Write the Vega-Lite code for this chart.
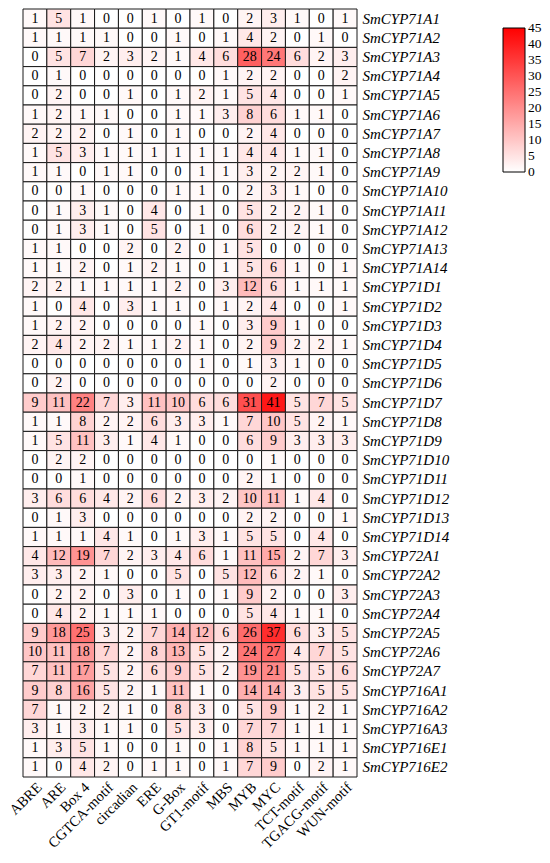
{
"$schema": "https://vega.github.io/schema/vega-lite/v6.json",
"width": 334, "height": 768,
"autosize": {"type": "none"},
"padding": {"left": 23, "top": 9, "right": 193, "bottom": 86},
"background": "white",
"config": {"view": {"stroke": null}, "font": "Liberation Serif"},
"datasets": {"cells": [
{"g":"SmCYP71A1","m":"ABRE","v":1},{"g":"SmCYP71A1","m":"ARE","v":5},{"g":"SmCYP71A1","m":"Box 4","v":1},{"g":"SmCYP71A1","m":"CGTCA-motif","v":0},{"g":"SmCYP71A1","m":"circadian","v":0},{"g":"SmCYP71A1","m":"ERE","v":1},{"g":"SmCYP71A1","m":"G-Box","v":0},{"g":"SmCYP71A1","m":"GT1-motif","v":1},{"g":"SmCYP71A1","m":"MBS","v":0},{"g":"SmCYP71A1","m":"MYB","v":2},{"g":"SmCYP71A1","m":"MYC","v":3},{"g":"SmCYP71A1","m":"TCT-motif","v":1},{"g":"SmCYP71A1","m":"TGACG-motif","v":0},{"g":"SmCYP71A1","m":"WUN-motif","v":1},
{"g":"SmCYP71A2","m":"ABRE","v":1},{"g":"SmCYP71A2","m":"ARE","v":1},{"g":"SmCYP71A2","m":"Box 4","v":1},{"g":"SmCYP71A2","m":"CGTCA-motif","v":1},{"g":"SmCYP71A2","m":"circadian","v":0},{"g":"SmCYP71A2","m":"ERE","v":0},{"g":"SmCYP71A2","m":"G-Box","v":1},{"g":"SmCYP71A2","m":"GT1-motif","v":0},{"g":"SmCYP71A2","m":"MBS","v":1},{"g":"SmCYP71A2","m":"MYB","v":4},{"g":"SmCYP71A2","m":"MYC","v":2},{"g":"SmCYP71A2","m":"TCT-motif","v":0},{"g":"SmCYP71A2","m":"TGACG-motif","v":1},{"g":"SmCYP71A2","m":"WUN-motif","v":0},
{"g":"SmCYP71A3","m":"ABRE","v":0},{"g":"SmCYP71A3","m":"ARE","v":5},{"g":"SmCYP71A3","m":"Box 4","v":7},{"g":"SmCYP71A3","m":"CGTCA-motif","v":2},{"g":"SmCYP71A3","m":"circadian","v":3},{"g":"SmCYP71A3","m":"ERE","v":2},{"g":"SmCYP71A3","m":"G-Box","v":1},{"g":"SmCYP71A3","m":"GT1-motif","v":4},{"g":"SmCYP71A3","m":"MBS","v":6},{"g":"SmCYP71A3","m":"MYB","v":28},{"g":"SmCYP71A3","m":"MYC","v":24},{"g":"SmCYP71A3","m":"TCT-motif","v":6},{"g":"SmCYP71A3","m":"TGACG-motif","v":2},{"g":"SmCYP71A3","m":"WUN-motif","v":3},
{"g":"SmCYP71A4","m":"ABRE","v":0},{"g":"SmCYP71A4","m":"ARE","v":1},{"g":"SmCYP71A4","m":"Box 4","v":0},{"g":"SmCYP71A4","m":"CGTCA-motif","v":0},{"g":"SmCYP71A4","m":"circadian","v":0},{"g":"SmCYP71A4","m":"ERE","v":0},{"g":"SmCYP71A4","m":"G-Box","v":0},{"g":"SmCYP71A4","m":"GT1-motif","v":0},{"g":"SmCYP71A4","m":"MBS","v":1},{"g":"SmCYP71A4","m":"MYB","v":2},{"g":"SmCYP71A4","m":"MYC","v":2},{"g":"SmCYP71A4","m":"TCT-motif","v":0},{"g":"SmCYP71A4","m":"TGACG-motif","v":0},{"g":"SmCYP71A4","m":"WUN-motif","v":2},
{"g":"SmCYP71A5","m":"ABRE","v":0},{"g":"SmCYP71A5","m":"ARE","v":2},{"g":"SmCYP71A5","m":"Box 4","v":0},{"g":"SmCYP71A5","m":"CGTCA-motif","v":0},{"g":"SmCYP71A5","m":"circadian","v":1},{"g":"SmCYP71A5","m":"ERE","v":0},{"g":"SmCYP71A5","m":"G-Box","v":1},{"g":"SmCYP71A5","m":"GT1-motif","v":2},{"g":"SmCYP71A5","m":"MBS","v":1},{"g":"SmCYP71A5","m":"MYB","v":5},{"g":"SmCYP71A5","m":"MYC","v":4},{"g":"SmCYP71A5","m":"TCT-motif","v":0},{"g":"SmCYP71A5","m":"TGACG-motif","v":0},{"g":"SmCYP71A5","m":"WUN-motif","v":1},
{"g":"SmCYP71A6","m":"ABRE","v":1},{"g":"SmCYP71A6","m":"ARE","v":2},{"g":"SmCYP71A6","m":"Box 4","v":1},{"g":"SmCYP71A6","m":"CGTCA-motif","v":1},{"g":"SmCYP71A6","m":"circadian","v":0},{"g":"SmCYP71A6","m":"ERE","v":0},{"g":"SmCYP71A6","m":"G-Box","v":1},{"g":"SmCYP71A6","m":"GT1-motif","v":1},{"g":"SmCYP71A6","m":"MBS","v":3},{"g":"SmCYP71A6","m":"MYB","v":8},{"g":"SmCYP71A6","m":"MYC","v":6},{"g":"SmCYP71A6","m":"TCT-motif","v":1},{"g":"SmCYP71A6","m":"TGACG-motif","v":1},{"g":"SmCYP71A6","m":"WUN-motif","v":0},
{"g":"SmCYP71A7","m":"ABRE","v":2},{"g":"SmCYP71A7","m":"ARE","v":2},{"g":"SmCYP71A7","m":"Box 4","v":2},{"g":"SmCYP71A7","m":"CGTCA-motif","v":0},{"g":"SmCYP71A7","m":"circadian","v":1},{"g":"SmCYP71A7","m":"ERE","v":0},{"g":"SmCYP71A7","m":"G-Box","v":1},{"g":"SmCYP71A7","m":"GT1-motif","v":0},{"g":"SmCYP71A7","m":"MBS","v":0},{"g":"SmCYP71A7","m":"MYB","v":2},{"g":"SmCYP71A7","m":"MYC","v":4},{"g":"SmCYP71A7","m":"TCT-motif","v":0},{"g":"SmCYP71A7","m":"TGACG-motif","v":0},{"g":"SmCYP71A7","m":"WUN-motif","v":0},
{"g":"SmCYP71A8","m":"ABRE","v":1},{"g":"SmCYP71A8","m":"ARE","v":5},{"g":"SmCYP71A8","m":"Box 4","v":3},{"g":"SmCYP71A8","m":"CGTCA-motif","v":1},{"g":"SmCYP71A8","m":"circadian","v":1},{"g":"SmCYP71A8","m":"ERE","v":1},{"g":"SmCYP71A8","m":"G-Box","v":1},{"g":"SmCYP71A8","m":"GT1-motif","v":1},{"g":"SmCYP71A8","m":"MBS","v":1},{"g":"SmCYP71A8","m":"MYB","v":4},{"g":"SmCYP71A8","m":"MYC","v":4},{"g":"SmCYP71A8","m":"TCT-motif","v":1},{"g":"SmCYP71A8","m":"TGACG-motif","v":1},{"g":"SmCYP71A8","m":"WUN-motif","v":0},
{"g":"SmCYP71A9","m":"ABRE","v":1},{"g":"SmCYP71A9","m":"ARE","v":1},{"g":"SmCYP71A9","m":"Box 4","v":0},{"g":"SmCYP71A9","m":"CGTCA-motif","v":1},{"g":"SmCYP71A9","m":"circadian","v":1},{"g":"SmCYP71A9","m":"ERE","v":0},{"g":"SmCYP71A9","m":"G-Box","v":0},{"g":"SmCYP71A9","m":"GT1-motif","v":1},{"g":"SmCYP71A9","m":"MBS","v":1},{"g":"SmCYP71A9","m":"MYB","v":3},{"g":"SmCYP71A9","m":"MYC","v":2},{"g":"SmCYP71A9","m":"TCT-motif","v":2},{"g":"SmCYP71A9","m":"TGACG-motif","v":1},{"g":"SmCYP71A9","m":"WUN-motif","v":0},
{"g":"SmCYP71A10","m":"ABRE","v":0},{"g":"SmCYP71A10","m":"ARE","v":0},{"g":"SmCYP71A10","m":"Box 4","v":1},{"g":"SmCYP71A10","m":"CGTCA-motif","v":0},{"g":"SmCYP71A10","m":"circadian","v":0},{"g":"SmCYP71A10","m":"ERE","v":0},{"g":"SmCYP71A10","m":"G-Box","v":1},{"g":"SmCYP71A10","m":"GT1-motif","v":1},{"g":"SmCYP71A10","m":"MBS","v":0},{"g":"SmCYP71A10","m":"MYB","v":2},{"g":"SmCYP71A10","m":"MYC","v":3},{"g":"SmCYP71A10","m":"TCT-motif","v":1},{"g":"SmCYP71A10","m":"TGACG-motif","v":0},{"g":"SmCYP71A10","m":"WUN-motif","v":0},
{"g":"SmCYP71A11","m":"ABRE","v":0},{"g":"SmCYP71A11","m":"ARE","v":1},{"g":"SmCYP71A11","m":"Box 4","v":3},{"g":"SmCYP71A11","m":"CGTCA-motif","v":1},{"g":"SmCYP71A11","m":"circadian","v":0},{"g":"SmCYP71A11","m":"ERE","v":4},{"g":"SmCYP71A11","m":"G-Box","v":0},{"g":"SmCYP71A11","m":"GT1-motif","v":1},{"g":"SmCYP71A11","m":"MBS","v":0},{"g":"SmCYP71A11","m":"MYB","v":5},{"g":"SmCYP71A11","m":"MYC","v":2},{"g":"SmCYP71A11","m":"TCT-motif","v":2},{"g":"SmCYP71A11","m":"TGACG-motif","v":1},{"g":"SmCYP71A11","m":"WUN-motif","v":0},
{"g":"SmCYP71A12","m":"ABRE","v":0},{"g":"SmCYP71A12","m":"ARE","v":1},{"g":"SmCYP71A12","m":"Box 4","v":3},{"g":"SmCYP71A12","m":"CGTCA-motif","v":1},{"g":"SmCYP71A12","m":"circadian","v":0},{"g":"SmCYP71A12","m":"ERE","v":5},{"g":"SmCYP71A12","m":"G-Box","v":0},{"g":"SmCYP71A12","m":"GT1-motif","v":1},{"g":"SmCYP71A12","m":"MBS","v":0},{"g":"SmCYP71A12","m":"MYB","v":6},{"g":"SmCYP71A12","m":"MYC","v":2},{"g":"SmCYP71A12","m":"TCT-motif","v":2},{"g":"SmCYP71A12","m":"TGACG-motif","v":1},{"g":"SmCYP71A12","m":"WUN-motif","v":0},
{"g":"SmCYP71A13","m":"ABRE","v":1},{"g":"SmCYP71A13","m":"ARE","v":1},{"g":"SmCYP71A13","m":"Box 4","v":0},{"g":"SmCYP71A13","m":"CGTCA-motif","v":0},{"g":"SmCYP71A13","m":"circadian","v":2},{"g":"SmCYP71A13","m":"ERE","v":0},{"g":"SmCYP71A13","m":"G-Box","v":2},{"g":"SmCYP71A13","m":"GT1-motif","v":0},{"g":"SmCYP71A13","m":"MBS","v":1},{"g":"SmCYP71A13","m":"MYB","v":5},{"g":"SmCYP71A13","m":"MYC","v":0},{"g":"SmCYP71A13","m":"TCT-motif","v":0},{"g":"SmCYP71A13","m":"TGACG-motif","v":0},{"g":"SmCYP71A13","m":"WUN-motif","v":0},
{"g":"SmCYP71A14","m":"ABRE","v":1},{"g":"SmCYP71A14","m":"ARE","v":1},{"g":"SmCYP71A14","m":"Box 4","v":2},{"g":"SmCYP71A14","m":"CGTCA-motif","v":0},{"g":"SmCYP71A14","m":"circadian","v":1},{"g":"SmCYP71A14","m":"ERE","v":2},{"g":"SmCYP71A14","m":"G-Box","v":1},{"g":"SmCYP71A14","m":"GT1-motif","v":0},{"g":"SmCYP71A14","m":"MBS","v":1},{"g":"SmCYP71A14","m":"MYB","v":5},{"g":"SmCYP71A14","m":"MYC","v":6},{"g":"SmCYP71A14","m":"TCT-motif","v":1},{"g":"SmCYP71A14","m":"TGACG-motif","v":0},{"g":"SmCYP71A14","m":"WUN-motif","v":1},
{"g":"SmCYP71D1","m":"ABRE","v":2},{"g":"SmCYP71D1","m":"ARE","v":2},{"g":"SmCYP71D1","m":"Box 4","v":1},{"g":"SmCYP71D1","m":"CGTCA-motif","v":1},{"g":"SmCYP71D1","m":"circadian","v":1},{"g":"SmCYP71D1","m":"ERE","v":1},{"g":"SmCYP71D1","m":"G-Box","v":2},{"g":"SmCYP71D1","m":"GT1-motif","v":0},{"g":"SmCYP71D1","m":"MBS","v":3},{"g":"SmCYP71D1","m":"MYB","v":12},{"g":"SmCYP71D1","m":"MYC","v":6},{"g":"SmCYP71D1","m":"TCT-motif","v":1},{"g":"SmCYP71D1","m":"TGACG-motif","v":1},{"g":"SmCYP71D1","m":"WUN-motif","v":1},
{"g":"SmCYP71D2","m":"ABRE","v":1},{"g":"SmCYP71D2","m":"ARE","v":0},{"g":"SmCYP71D2","m":"Box 4","v":4},{"g":"SmCYP71D2","m":"CGTCA-motif","v":0},{"g":"SmCYP71D2","m":"circadian","v":3},{"g":"SmCYP71D2","m":"ERE","v":1},{"g":"SmCYP71D2","m":"G-Box","v":1},{"g":"SmCYP71D2","m":"GT1-motif","v":0},{"g":"SmCYP71D2","m":"MBS","v":1},{"g":"SmCYP71D2","m":"MYB","v":2},{"g":"SmCYP71D2","m":"MYC","v":4},{"g":"SmCYP71D2","m":"TCT-motif","v":0},{"g":"SmCYP71D2","m":"TGACG-motif","v":0},{"g":"SmCYP71D2","m":"WUN-motif","v":1},
{"g":"SmCYP71D3","m":"ABRE","v":1},{"g":"SmCYP71D3","m":"ARE","v":2},{"g":"SmCYP71D3","m":"Box 4","v":2},{"g":"SmCYP71D3","m":"CGTCA-motif","v":0},{"g":"SmCYP71D3","m":"circadian","v":0},{"g":"SmCYP71D3","m":"ERE","v":0},{"g":"SmCYP71D3","m":"G-Box","v":0},{"g":"SmCYP71D3","m":"GT1-motif","v":1},{"g":"SmCYP71D3","m":"MBS","v":0},{"g":"SmCYP71D3","m":"MYB","v":3},{"g":"SmCYP71D3","m":"MYC","v":9},{"g":"SmCYP71D3","m":"TCT-motif","v":1},{"g":"SmCYP71D3","m":"TGACG-motif","v":0},{"g":"SmCYP71D3","m":"WUN-motif","v":0},
{"g":"SmCYP71D4","m":"ABRE","v":2},{"g":"SmCYP71D4","m":"ARE","v":4},{"g":"SmCYP71D4","m":"Box 4","v":2},{"g":"SmCYP71D4","m":"CGTCA-motif","v":2},{"g":"SmCYP71D4","m":"circadian","v":1},{"g":"SmCYP71D4","m":"ERE","v":1},{"g":"SmCYP71D4","m":"G-Box","v":2},{"g":"SmCYP71D4","m":"GT1-motif","v":1},{"g":"SmCYP71D4","m":"MBS","v":0},{"g":"SmCYP71D4","m":"MYB","v":2},{"g":"SmCYP71D4","m":"MYC","v":9},{"g":"SmCYP71D4","m":"TCT-motif","v":2},{"g":"SmCYP71D4","m":"TGACG-motif","v":2},{"g":"SmCYP71D4","m":"WUN-motif","v":1},
{"g":"SmCYP71D5","m":"ABRE","v":0},{"g":"SmCYP71D5","m":"ARE","v":0},{"g":"SmCYP71D5","m":"Box 4","v":0},{"g":"SmCYP71D5","m":"CGTCA-motif","v":0},{"g":"SmCYP71D5","m":"circadian","v":0},{"g":"SmCYP71D5","m":"ERE","v":0},{"g":"SmCYP71D5","m":"G-Box","v":0},{"g":"SmCYP71D5","m":"GT1-motif","v":1},{"g":"SmCYP71D5","m":"MBS","v":0},{"g":"SmCYP71D5","m":"MYB","v":1},{"g":"SmCYP71D5","m":"MYC","v":3},{"g":"SmCYP71D5","m":"TCT-motif","v":1},{"g":"SmCYP71D5","m":"TGACG-motif","v":0},{"g":"SmCYP71D5","m":"WUN-motif","v":0},
{"g":"SmCYP71D6","m":"ABRE","v":0},{"g":"SmCYP71D6","m":"ARE","v":2},{"g":"SmCYP71D6","m":"Box 4","v":0},{"g":"SmCYP71D6","m":"CGTCA-motif","v":0},{"g":"SmCYP71D6","m":"circadian","v":0},{"g":"SmCYP71D6","m":"ERE","v":0},{"g":"SmCYP71D6","m":"G-Box","v":0},{"g":"SmCYP71D6","m":"GT1-motif","v":0},{"g":"SmCYP71D6","m":"MBS","v":0},{"g":"SmCYP71D6","m":"MYB","v":0},{"g":"SmCYP71D6","m":"MYC","v":2},{"g":"SmCYP71D6","m":"TCT-motif","v":0},{"g":"SmCYP71D6","m":"TGACG-motif","v":0},{"g":"SmCYP71D6","m":"WUN-motif","v":0},
{"g":"SmCYP71D7","m":"ABRE","v":9},{"g":"SmCYP71D7","m":"ARE","v":11},{"g":"SmCYP71D7","m":"Box 4","v":22},{"g":"SmCYP71D7","m":"CGTCA-motif","v":7},{"g":"SmCYP71D7","m":"circadian","v":3},{"g":"SmCYP71D7","m":"ERE","v":11},{"g":"SmCYP71D7","m":"G-Box","v":10},{"g":"SmCYP71D7","m":"GT1-motif","v":6},{"g":"SmCYP71D7","m":"MBS","v":6},{"g":"SmCYP71D7","m":"MYB","v":31},{"g":"SmCYP71D7","m":"MYC","v":41},{"g":"SmCYP71D7","m":"TCT-motif","v":5},{"g":"SmCYP71D7","m":"TGACG-motif","v":7},{"g":"SmCYP71D7","m":"WUN-motif","v":5},
{"g":"SmCYP71D8","m":"ABRE","v":1},{"g":"SmCYP71D8","m":"ARE","v":1},{"g":"SmCYP71D8","m":"Box 4","v":8},{"g":"SmCYP71D8","m":"CGTCA-motif","v":2},{"g":"SmCYP71D8","m":"circadian","v":2},{"g":"SmCYP71D8","m":"ERE","v":6},{"g":"SmCYP71D8","m":"G-Box","v":3},{"g":"SmCYP71D8","m":"GT1-motif","v":3},{"g":"SmCYP71D8","m":"MBS","v":1},{"g":"SmCYP71D8","m":"MYB","v":7},{"g":"SmCYP71D8","m":"MYC","v":10},{"g":"SmCYP71D8","m":"TCT-motif","v":5},{"g":"SmCYP71D8","m":"TGACG-motif","v":2},{"g":"SmCYP71D8","m":"WUN-motif","v":1},
{"g":"SmCYP71D9","m":"ABRE","v":1},{"g":"SmCYP71D9","m":"ARE","v":5},{"g":"SmCYP71D9","m":"Box 4","v":11},{"g":"SmCYP71D9","m":"CGTCA-motif","v":3},{"g":"SmCYP71D9","m":"circadian","v":1},{"g":"SmCYP71D9","m":"ERE","v":4},{"g":"SmCYP71D9","m":"G-Box","v":1},{"g":"SmCYP71D9","m":"GT1-motif","v":0},{"g":"SmCYP71D9","m":"MBS","v":0},{"g":"SmCYP71D9","m":"MYB","v":6},{"g":"SmCYP71D9","m":"MYC","v":9},{"g":"SmCYP71D9","m":"TCT-motif","v":3},{"g":"SmCYP71D9","m":"TGACG-motif","v":3},{"g":"SmCYP71D9","m":"WUN-motif","v":3},
{"g":"SmCYP71D10","m":"ABRE","v":0},{"g":"SmCYP71D10","m":"ARE","v":2},{"g":"SmCYP71D10","m":"Box 4","v":2},{"g":"SmCYP71D10","m":"CGTCA-motif","v":0},{"g":"SmCYP71D10","m":"circadian","v":0},{"g":"SmCYP71D10","m":"ERE","v":0},{"g":"SmCYP71D10","m":"G-Box","v":0},{"g":"SmCYP71D10","m":"GT1-motif","v":0},{"g":"SmCYP71D10","m":"MBS","v":0},{"g":"SmCYP71D10","m":"MYB","v":0},{"g":"SmCYP71D10","m":"MYC","v":1},{"g":"SmCYP71D10","m":"TCT-motif","v":0},{"g":"SmCYP71D10","m":"TGACG-motif","v":0},{"g":"SmCYP71D10","m":"WUN-motif","v":0},
{"g":"SmCYP71D11","m":"ABRE","v":0},{"g":"SmCYP71D11","m":"ARE","v":0},{"g":"SmCYP71D11","m":"Box 4","v":1},{"g":"SmCYP71D11","m":"CGTCA-motif","v":0},{"g":"SmCYP71D11","m":"circadian","v":0},{"g":"SmCYP71D11","m":"ERE","v":0},{"g":"SmCYP71D11","m":"G-Box","v":0},{"g":"SmCYP71D11","m":"GT1-motif","v":0},{"g":"SmCYP71D11","m":"MBS","v":0},{"g":"SmCYP71D11","m":"MYB","v":2},{"g":"SmCYP71D11","m":"MYC","v":1},{"g":"SmCYP71D11","m":"TCT-motif","v":0},{"g":"SmCYP71D11","m":"TGACG-motif","v":0},{"g":"SmCYP71D11","m":"WUN-motif","v":0},
{"g":"SmCYP71D12","m":"ABRE","v":3},{"g":"SmCYP71D12","m":"ARE","v":6},{"g":"SmCYP71D12","m":"Box 4","v":6},{"g":"SmCYP71D12","m":"CGTCA-motif","v":4},{"g":"SmCYP71D12","m":"circadian","v":2},{"g":"SmCYP71D12","m":"ERE","v":6},{"g":"SmCYP71D12","m":"G-Box","v":2},{"g":"SmCYP71D12","m":"GT1-motif","v":3},{"g":"SmCYP71D12","m":"MBS","v":2},{"g":"SmCYP71D12","m":"MYB","v":10},{"g":"SmCYP71D12","m":"MYC","v":11},{"g":"SmCYP71D12","m":"TCT-motif","v":1},{"g":"SmCYP71D12","m":"TGACG-motif","v":4},{"g":"SmCYP71D12","m":"WUN-motif","v":0},
{"g":"SmCYP71D13","m":"ABRE","v":0},{"g":"SmCYP71D13","m":"ARE","v":1},{"g":"SmCYP71D13","m":"Box 4","v":3},{"g":"SmCYP71D13","m":"CGTCA-motif","v":0},{"g":"SmCYP71D13","m":"circadian","v":0},{"g":"SmCYP71D13","m":"ERE","v":0},{"g":"SmCYP71D13","m":"G-Box","v":0},{"g":"SmCYP71D13","m":"GT1-motif","v":0},{"g":"SmCYP71D13","m":"MBS","v":0},{"g":"SmCYP71D13","m":"MYB","v":2},{"g":"SmCYP71D13","m":"MYC","v":2},{"g":"SmCYP71D13","m":"TCT-motif","v":0},{"g":"SmCYP71D13","m":"TGACG-motif","v":0},{"g":"SmCYP71D13","m":"WUN-motif","v":1},
{"g":"SmCYP71D14","m":"ABRE","v":1},{"g":"SmCYP71D14","m":"ARE","v":1},{"g":"SmCYP71D14","m":"Box 4","v":1},{"g":"SmCYP71D14","m":"CGTCA-motif","v":4},{"g":"SmCYP71D14","m":"circadian","v":1},{"g":"SmCYP71D14","m":"ERE","v":0},{"g":"SmCYP71D14","m":"G-Box","v":1},{"g":"SmCYP71D14","m":"GT1-motif","v":3},{"g":"SmCYP71D14","m":"MBS","v":1},{"g":"SmCYP71D14","m":"MYB","v":5},{"g":"SmCYP71D14","m":"MYC","v":5},{"g":"SmCYP71D14","m":"TCT-motif","v":0},{"g":"SmCYP71D14","m":"TGACG-motif","v":4},{"g":"SmCYP71D14","m":"WUN-motif","v":0},
{"g":"SmCYP72A1","m":"ABRE","v":4},{"g":"SmCYP72A1","m":"ARE","v":12},{"g":"SmCYP72A1","m":"Box 4","v":19},{"g":"SmCYP72A1","m":"CGTCA-motif","v":7},{"g":"SmCYP72A1","m":"circadian","v":2},{"g":"SmCYP72A1","m":"ERE","v":3},{"g":"SmCYP72A1","m":"G-Box","v":4},{"g":"SmCYP72A1","m":"GT1-motif","v":6},{"g":"SmCYP72A1","m":"MBS","v":1},{"g":"SmCYP72A1","m":"MYB","v":11},{"g":"SmCYP72A1","m":"MYC","v":15},{"g":"SmCYP72A1","m":"TCT-motif","v":2},{"g":"SmCYP72A1","m":"TGACG-motif","v":7},{"g":"SmCYP72A1","m":"WUN-motif","v":3},
{"g":"SmCYP72A2","m":"ABRE","v":3},{"g":"SmCYP72A2","m":"ARE","v":3},{"g":"SmCYP72A2","m":"Box 4","v":2},{"g":"SmCYP72A2","m":"CGTCA-motif","v":1},{"g":"SmCYP72A2","m":"circadian","v":0},{"g":"SmCYP72A2","m":"ERE","v":0},{"g":"SmCYP72A2","m":"G-Box","v":5},{"g":"SmCYP72A2","m":"GT1-motif","v":0},{"g":"SmCYP72A2","m":"MBS","v":5},{"g":"SmCYP72A2","m":"MYB","v":12},{"g":"SmCYP72A2","m":"MYC","v":6},{"g":"SmCYP72A2","m":"TCT-motif","v":2},{"g":"SmCYP72A2","m":"TGACG-motif","v":1},{"g":"SmCYP72A2","m":"WUN-motif","v":0},
{"g":"SmCYP72A3","m":"ABRE","v":0},{"g":"SmCYP72A3","m":"ARE","v":2},{"g":"SmCYP72A3","m":"Box 4","v":2},{"g":"SmCYP72A3","m":"CGTCA-motif","v":0},{"g":"SmCYP72A3","m":"circadian","v":3},{"g":"SmCYP72A3","m":"ERE","v":0},{"g":"SmCYP72A3","m":"G-Box","v":1},{"g":"SmCYP72A3","m":"GT1-motif","v":0},{"g":"SmCYP72A3","m":"MBS","v":1},{"g":"SmCYP72A3","m":"MYB","v":9},{"g":"SmCYP72A3","m":"MYC","v":2},{"g":"SmCYP72A3","m":"TCT-motif","v":0},{"g":"SmCYP72A3","m":"TGACG-motif","v":0},{"g":"SmCYP72A3","m":"WUN-motif","v":3},
{"g":"SmCYP72A4","m":"ABRE","v":0},{"g":"SmCYP72A4","m":"ARE","v":4},{"g":"SmCYP72A4","m":"Box 4","v":2},{"g":"SmCYP72A4","m":"CGTCA-motif","v":1},{"g":"SmCYP72A4","m":"circadian","v":1},{"g":"SmCYP72A4","m":"ERE","v":1},{"g":"SmCYP72A4","m":"G-Box","v":0},{"g":"SmCYP72A4","m":"GT1-motif","v":0},{"g":"SmCYP72A4","m":"MBS","v":0},{"g":"SmCYP72A4","m":"MYB","v":5},{"g":"SmCYP72A4","m":"MYC","v":4},{"g":"SmCYP72A4","m":"TCT-motif","v":1},{"g":"SmCYP72A4","m":"TGACG-motif","v":1},{"g":"SmCYP72A4","m":"WUN-motif","v":0},
{"g":"SmCYP72A5","m":"ABRE","v":9},{"g":"SmCYP72A5","m":"ARE","v":18},{"g":"SmCYP72A5","m":"Box 4","v":25},{"g":"SmCYP72A5","m":"CGTCA-motif","v":3},{"g":"SmCYP72A5","m":"circadian","v":2},{"g":"SmCYP72A5","m":"ERE","v":7},{"g":"SmCYP72A5","m":"G-Box","v":14},{"g":"SmCYP72A5","m":"GT1-motif","v":12},{"g":"SmCYP72A5","m":"MBS","v":6},{"g":"SmCYP72A5","m":"MYB","v":26},{"g":"SmCYP72A5","m":"MYC","v":37},{"g":"SmCYP72A5","m":"TCT-motif","v":6},{"g":"SmCYP72A5","m":"TGACG-motif","v":3},{"g":"SmCYP72A5","m":"WUN-motif","v":5},
{"g":"SmCYP72A6","m":"ABRE","v":10},{"g":"SmCYP72A6","m":"ARE","v":11},{"g":"SmCYP72A6","m":"Box 4","v":18},{"g":"SmCYP72A6","m":"CGTCA-motif","v":7},{"g":"SmCYP72A6","m":"circadian","v":2},{"g":"SmCYP72A6","m":"ERE","v":8},{"g":"SmCYP72A6","m":"G-Box","v":13},{"g":"SmCYP72A6","m":"GT1-motif","v":5},{"g":"SmCYP72A6","m":"MBS","v":2},{"g":"SmCYP72A6","m":"MYB","v":24},{"g":"SmCYP72A6","m":"MYC","v":27},{"g":"SmCYP72A6","m":"TCT-motif","v":4},{"g":"SmCYP72A6","m":"TGACG-motif","v":7},{"g":"SmCYP72A6","m":"WUN-motif","v":5},
{"g":"SmCYP72A7","m":"ABRE","v":7},{"g":"SmCYP72A7","m":"ARE","v":11},{"g":"SmCYP72A7","m":"Box 4","v":17},{"g":"SmCYP72A7","m":"CGTCA-motif","v":5},{"g":"SmCYP72A7","m":"circadian","v":2},{"g":"SmCYP72A7","m":"ERE","v":6},{"g":"SmCYP72A7","m":"G-Box","v":9},{"g":"SmCYP72A7","m":"GT1-motif","v":5},{"g":"SmCYP72A7","m":"MBS","v":2},{"g":"SmCYP72A7","m":"MYB","v":19},{"g":"SmCYP72A7","m":"MYC","v":21},{"g":"SmCYP72A7","m":"TCT-motif","v":5},{"g":"SmCYP72A7","m":"TGACG-motif","v":5},{"g":"SmCYP72A7","m":"WUN-motif","v":6},
{"g":"SmCYP716A1","m":"ABRE","v":9},{"g":"SmCYP716A1","m":"ARE","v":8},{"g":"SmCYP716A1","m":"Box 4","v":16},{"g":"SmCYP716A1","m":"CGTCA-motif","v":5},{"g":"SmCYP716A1","m":"circadian","v":2},{"g":"SmCYP716A1","m":"ERE","v":1},{"g":"SmCYP716A1","m":"G-Box","v":11},{"g":"SmCYP716A1","m":"GT1-motif","v":1},{"g":"SmCYP716A1","m":"MBS","v":0},{"g":"SmCYP716A1","m":"MYB","v":14},{"g":"SmCYP716A1","m":"MYC","v":14},{"g":"SmCYP716A1","m":"TCT-motif","v":3},{"g":"SmCYP716A1","m":"TGACG-motif","v":5},{"g":"SmCYP716A1","m":"WUN-motif","v":5},
{"g":"SmCYP716A2","m":"ABRE","v":7},{"g":"SmCYP716A2","m":"ARE","v":1},{"g":"SmCYP716A2","m":"Box 4","v":2},{"g":"SmCYP716A2","m":"CGTCA-motif","v":2},{"g":"SmCYP716A2","m":"circadian","v":1},{"g":"SmCYP716A2","m":"ERE","v":0},{"g":"SmCYP716A2","m":"G-Box","v":8},{"g":"SmCYP716A2","m":"GT1-motif","v":3},{"g":"SmCYP716A2","m":"MBS","v":0},{"g":"SmCYP716A2","m":"MYB","v":5},{"g":"SmCYP716A2","m":"MYC","v":9},{"g":"SmCYP716A2","m":"TCT-motif","v":1},{"g":"SmCYP716A2","m":"TGACG-motif","v":2},{"g":"SmCYP716A2","m":"WUN-motif","v":1},
{"g":"SmCYP716A3","m":"ABRE","v":3},{"g":"SmCYP716A3","m":"ARE","v":1},{"g":"SmCYP716A3","m":"Box 4","v":3},{"g":"SmCYP716A3","m":"CGTCA-motif","v":1},{"g":"SmCYP716A3","m":"circadian","v":1},{"g":"SmCYP716A3","m":"ERE","v":0},{"g":"SmCYP716A3","m":"G-Box","v":5},{"g":"SmCYP716A3","m":"GT1-motif","v":3},{"g":"SmCYP716A3","m":"MBS","v":0},{"g":"SmCYP716A3","m":"MYB","v":7},{"g":"SmCYP716A3","m":"MYC","v":7},{"g":"SmCYP716A3","m":"TCT-motif","v":1},{"g":"SmCYP716A3","m":"TGACG-motif","v":1},{"g":"SmCYP716A3","m":"WUN-motif","v":1},
{"g":"SmCYP716E1","m":"ABRE","v":1},{"g":"SmCYP716E1","m":"ARE","v":3},{"g":"SmCYP716E1","m":"Box 4","v":5},{"g":"SmCYP716E1","m":"CGTCA-motif","v":1},{"g":"SmCYP716E1","m":"circadian","v":0},{"g":"SmCYP716E1","m":"ERE","v":0},{"g":"SmCYP716E1","m":"G-Box","v":1},{"g":"SmCYP716E1","m":"GT1-motif","v":0},{"g":"SmCYP716E1","m":"MBS","v":1},{"g":"SmCYP716E1","m":"MYB","v":8},{"g":"SmCYP716E1","m":"MYC","v":5},{"g":"SmCYP716E1","m":"TCT-motif","v":1},{"g":"SmCYP716E1","m":"TGACG-motif","v":1},{"g":"SmCYP716E1","m":"WUN-motif","v":1},
{"g":"SmCYP716E2","m":"ABRE","v":1},{"g":"SmCYP716E2","m":"ARE","v":0},{"g":"SmCYP716E2","m":"Box 4","v":4},{"g":"SmCYP716E2","m":"CGTCA-motif","v":2},{"g":"SmCYP716E2","m":"circadian","v":0},{"g":"SmCYP716E2","m":"ERE","v":1},{"g":"SmCYP716E2","m":"G-Box","v":1},{"g":"SmCYP716E2","m":"GT1-motif","v":0},{"g":"SmCYP716E2","m":"MBS","v":1},{"g":"SmCYP716E2","m":"MYB","v":7},{"g":"SmCYP716E2","m":"MYC","v":9},{"g":"SmCYP716E2","m":"TCT-motif","v":0},{"g":"SmCYP716E2","m":"TGACG-motif","v":2},{"g":"SmCYP716E2","m":"WUN-motif","v":1}
]},
"data": {"name": "cells"},
"encoding": {
  "x": {"field": "m", "type": "nominal", "sort": null, "scale": {"paddingInner": 0, "paddingOuter": 0},
        "axis": {"title": null, "labelAngle": -45, "labelFontSize": 14.5, "labelFont": "Liberation Serif", "labelColor": "black", "ticks": false, "domain": false, "labelPadding": 3}},
  "y": {"field": "g", "type": "nominal", "sort": null, "scale": {"paddingInner": 0, "paddingOuter": 0},
        "axis": {"orient": "right", "title": null, "labelFontSize": 15, "labelFont": "Liberation Serif", "labelFontStyle": "italic", "labelColor": "black", "ticks": false, "domain": false, "labelPadding": 5}}
},
"layer": [
  {"mark": {"type": "rect", "stroke": "#1a1a1a", "strokeWidth": 1, "opacity": 1},
   "encoding": {"color": {"field": "v", "type": "quantitative",
      "scale": {"type": "linear", "domain": [0, 45], "range": ["#ffffff", "#ff0000"], "interpolate": "rgb"},
      "legend": {"title": null, "orient": "none", "legendX": 480, "legendY": 19, "direction": "vertical",
                 "gradientLength": 144, "gradientThickness": 22, "gradientStrokeColor": "black", "gradientStrokeWidth": 1,
                 "values": [0, 5, 10, 15, 20, 25, 30, 35, 40, 45], "labelOverlap": false, "labelFontSize": 13.5, "labelFont": "Liberation Serif", "labelColor": "black", "labelOffset": 3,
                 "encoding": {"labels": {"baseline": {"value": "middle"}}}}}}},
  {"mark": {"type": "text", "fontSize": 14, "font": "Liberation Serif", "color": "black"},
   "encoding": {"text": {"field": "v", "type": "quantitative"}}}
]
}
